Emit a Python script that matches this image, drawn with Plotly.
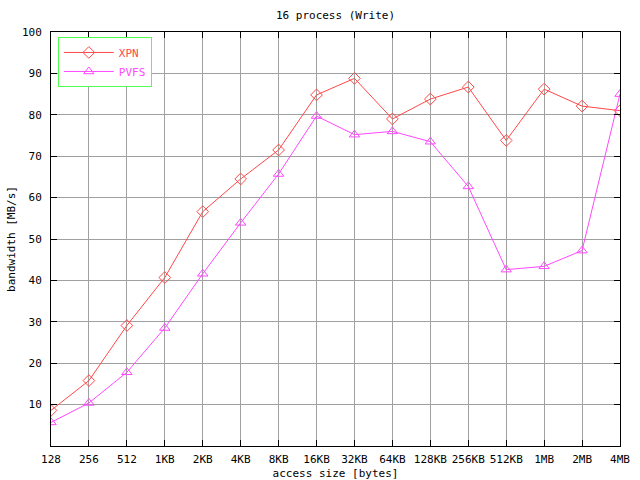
"""
16 process (Write) - ancho de banda XPN vs PVFS
"""
import plotly.graph_objects as go

# Datos
access_sizes = ['128', '256', '512', '1KB', '2KB', '4KB', '8KB', '16KB', '32KB',
                '64KB', '128KB', '256KB', '512KB', '1MB', '2MB', '4MB']
xpn_bw = [8.6, 15.8, 29.1, 40.7, 56.6, 64.5, 71.5, 84.8, 88.8,
          79.0, 83.8, 86.7, 73.8, 86.2, 82.1, 81.0]
pvfs_bw = [5.7, 10.4, 17.8, 28.5, 41.6, 53.9, 65.7, 79.7, 75.2,
           76.0, 73.5, 62.7, 42.6, 43.4, 47.2, 85.0]
y_ticks = [10, 20, 30, 40, 50, 60, 70, 80, 90, 100]

COLORS = {
    'xpn': '#ff4848',
    'pvfs': '#ff48ff',
    'grid': '#a0a0a0',
    'legend': '#50ff50',
}
FONT = 'DejaVu Sans Mono'
FSIZE = 11

x_idx = list(range(len(access_sizes)))

fig = go.Figure()

fig.add_trace(go.Scatter(
    x=x_idx, y=xpn_bw,
    mode='lines+markers',
    name="<span style='color:%s'>XPN</span>" % COLORS['xpn'],
    line=dict(color=COLORS['xpn'], width=1),
    marker=dict(symbol='diamond-open', size=9, color=COLORS['xpn'], line=dict(width=1))
))

fig.add_trace(go.Scatter(
    x=x_idx, y=pvfs_bw,
    mode='lines+markers',
    name="<span style='color:%s'>PVFS</span>" % COLORS['pvfs'],
    line=dict(color=COLORS['pvfs'], width=1),
    marker=dict(symbol='triangle-up-open', size=9, color=COLORS['pvfs'], line=dict(width=1))
))

axis_common = dict(
    showline=True, linecolor='black', linewidth=1, mirror='ticks',
    ticks='inside', ticklen=6, tickcolor='black',
    showgrid=True, gridcolor=COLORS['grid'], gridwidth=1,
    zeroline=False, automargin=False,
    tickfont=dict(family=FONT, size=FSIZE, color='black'),
)

fig.update_xaxes(
    range=[0, len(access_sizes) - 1],
    tickvals=x_idx, ticktext=access_sizes,
    title=dict(text='access size [bytes]', font=dict(family=FONT, size=FSIZE, color='black'), standoff=4),
    ticklabelstandoff=3,
    **axis_common
)
fig.update_yaxes(
    range=[0, 100],
    tickvals=y_ticks,
    title=dict(text='bandwidth [MB/s]', font=dict(family=FONT, size=FSIZE, color='black'), standoff=4),
    ticklabelstandoff=6,
    **axis_common
)

fig.update_layout(
    width=640, height=480,
    margin=dict(l=51, r=20, t=32, b=34),
    paper_bgcolor='white', plot_bgcolor='white',
    font=dict(family=FONT, size=FSIZE, color='black'),
    title=dict(text='16 process (Write)', x=0.5, xref='paper', y=1 - 15 / 480,
               yanchor='middle', font=dict(family=FONT, size=FSIZE, color='black')),
    showlegend=True,
    legend=dict(
        x=0.012, y=0.988, xanchor='left', yanchor='top',
        bgcolor='white', bordercolor=COLORS['legend'], borderwidth=1,
        itemwidth=50, font=dict(family=FONT, size=FSIZE),
    ),
)

fig.write_html("out.html", config={'displayModeBar': False},
               post_script="document.body.style.margin='0';")
